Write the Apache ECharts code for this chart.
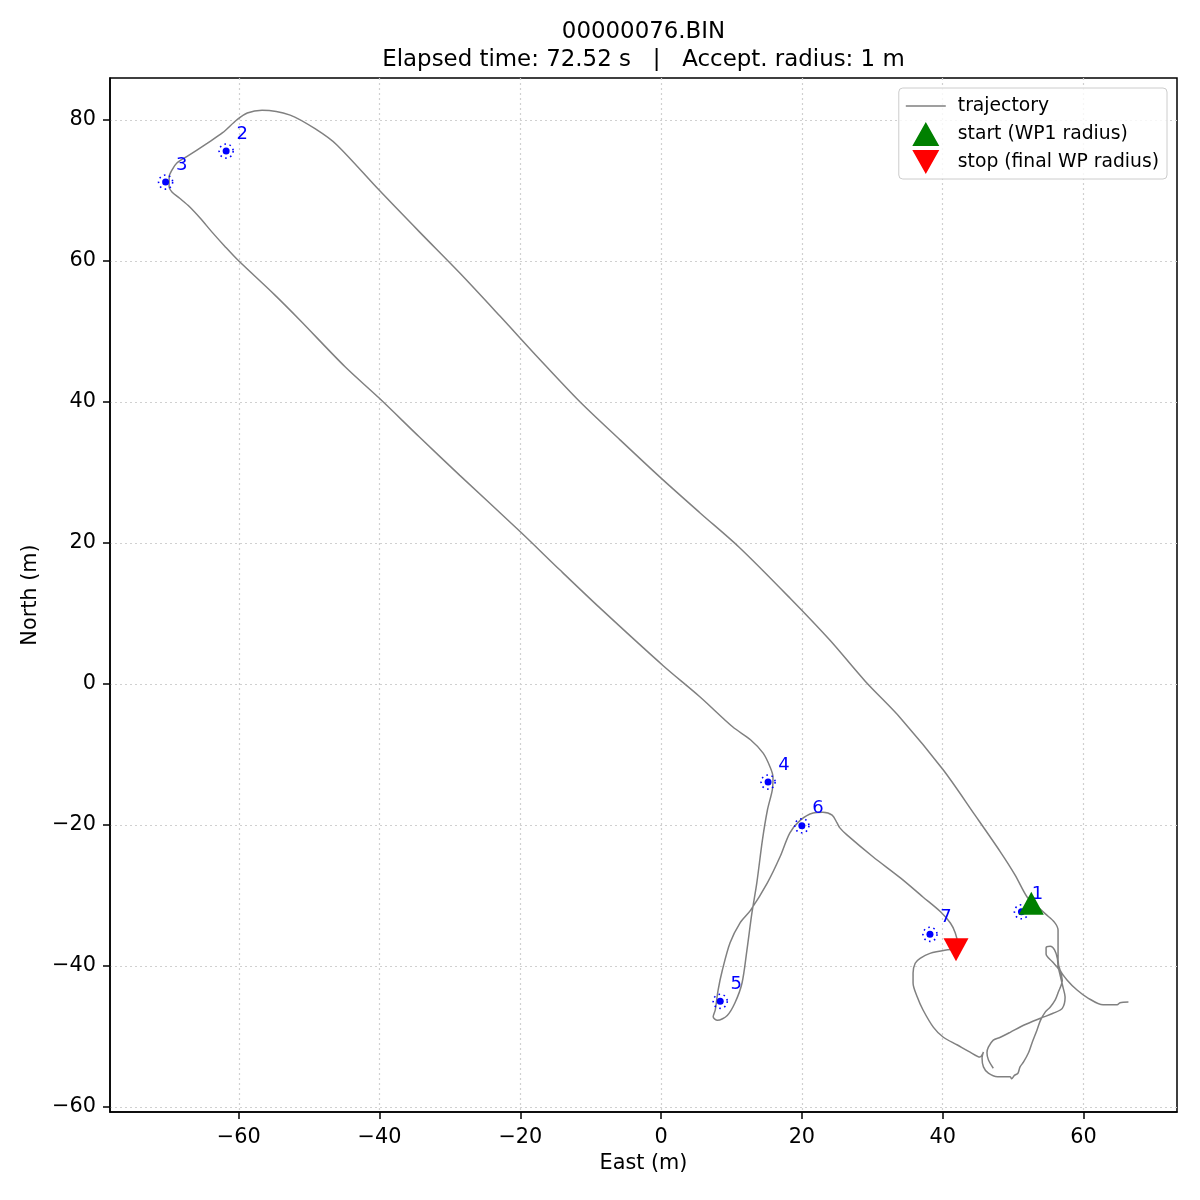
<!DOCTYPE html>
<html>
<head>
<meta charset="utf-8">
<script src="https://cdn.jsdelivr.net/npm/echarts@6/dist/echarts.min.js"></script>
<style>
  html, body { margin: 0; padding: 0; background: #fff; }
  #chart { width: 1200px; height: 1200px; }
</style>
</head>
<body>
<div id="chart"></div>
<script>
// trajectory (East / North, metres)
const trajEast = [66.4, 65.2, 64.8, 62.8, 60.6, 59.1, 57.7, 56.7, 56.4, 56.4, 56.4, 55.9, 54.6, 53.2, 52.0,
  50.3, 48.2, 44.6, 40.1, 34.0, 29.0, 24.0, 18.3, 11.2, 5.5, 0, -5.8, -11.5, -17.2, -22.9, -28.6, -34.3,
  -40.1, -46.1, -48.9, -52.7, -56.7, -58.8, -60.3, -62.3, -64.5, -67.4, -68.8, -69.5, -69.9, -69.9, -69.5,
  -68.4, -67.0, -65.5, -63.8, -62.0, -60.1, -54.9, -51.3, -44.9, -40.1, -34.3, -28.6, -20.0, -14.4, -8.7, 0.3,
  5.5, 10.2, 12.7, 14.5, 15.5, 15.9, 15.8, 15.1, 14.4, 13.6, 12.9, 12.2, 11.5, 10.5, 9.4, 8.0, 7.4, 7.7,
  8.1, 8.7, 9.8, 11.2, 12.7, 15.1, 16.9, 18.3, 19.8, 21.6, 23.0, 24.3, 25.0, 25.4, 26.4, 30.1, 34.0, 37.2,
  39.7, 41.1, 41.8, 42.1, 41.9, 40.7, 38.2, 36.8, 36.1, 35.8, 35.8, 36.4, 37.2, 38.7, 40.1, 42.1, 43.9,
  45.3, 45.8, 45.6, 45.8, 46.5, 47.8, 49.6, 49.8, 50.2, 50.7, 51.0, 51.5, 52.2, 52.7, 53.4, 53.9, 54.6,
  55.3, 56.0, 56.4, 57.0, 56.6, 55.6, 54.7, 54.7, 55.3, 55.9, 56.3, 56.4, 56.7, 57.1, 57.4, 57.0, 55.7,
  53.9, 51.5, 49.6, 48.2, 47.2, 46.5, 46.3, 46.5, 47.2];
const trajNorth = [-45.1, -45.2, -45.5, -45.5, -44.5, -43.4, -42.0, -40.6, -39.1, -37.0, -34.9, -33.8, -32.6, -31.3, -30.2,
  -27.1, -23.8, -18.6, -12.2, -4.8, 0.4, 6.2, 12.2, 19.3, 24.3, 29.2, 34.6, 40.0, 46.0, 52.2, 58.3, 64.1,
  70.1, 76.5, 78.6, 80.7, 81.4, 81.0, 80.0, 78.2, 76.7, 74.8, 73.9, 72.9, 71.9, 70.5, 69.8,
  68.9, 67.7, 66.1, 64.1, 62.1, 60.1, 55.2, 51.6, 45.0, 40.6, 35.0, 29.6, 21.6, 16.2, 10.8, 2.6,
  -1.8, -6.1, -7.9, -9.8, -11.8, -13.2, -15.0, -17.9, -22.1, -28.2, -32.5, -37.7, -42.4, -45.2, -47.0, -47.7, -47.2, -46.2,
  -43.4, -40.6, -36.7, -33.9, -32.1, -28.2, -24.5, -21.1, -19.3, -18.3, -18.2, -18.6, -19.7, -20.4, -21.4, -24.5, -27.5, -30.2,
  -32.3, -33.9, -35.3, -36.7, -37.6, -37.7, -38.2, -38.9, -39.6, -41.0, -42.4, -44.4, -46.2, -48.7, -50.1, -51.2, -52.2,
  -52.9, -52.2, -53.0, -54.3, -55.2, -55.7, -55.7, -56.0, -55.5, -55.2, -54.3, -53.6, -52.3, -50.9, -49.1, -47.7, -46.5,
  -45.8, -44.8, -43.8, -42.0, -40.6, -39.4, -38.3, -37.4, -37.2, -37.7, -38.9, -40.0, -41.3, -43.0, -44.4, -46.0, -46.7,
  -47.4, -48.4, -49.4, -50.1, -50.5, -51.5, -52.3, -53.3, -54.5];

// waypoints
const wpEast = [51.2, -61.8, -70.4, 15.2, 8.4, 20.0, 38.2];
const wpNorth = [-32.3, 75.6, 71.2, -13.9, -45.0, -20.1, -35.5];
const wpLabels = ['1', '2', '3', '4', '5', '6', '7'];
const acceptRadius = 1;

const startPoint = [52.6, -31.1];
const stopPoint = [41.9, -37.7];

const xTicks = [-60, -40, -20, 0, 20, 40, 60];
const yTicks = [-60, -40, -20, 0, 20, 40, 60, 80];

const FONT = '"DejaVu Sans", sans-serif';
const minus = (v) => (v < 0 ? '\u2212' + Math.abs(v) : String(v));

// legend icons drawn in a 40x24 box (corner stubs keep the box size)
const BOX = 'M0,0L0.01,0M40,24L39.99,24';
const lineIcon = 'path://' + BOX + 'M0,11.3L40,11.3L40,12.7L0,12.7Z';
const upIcon = 'path://' + BOX + 'M20,0L33.5,24L6.5,24Z';
const downIcon = 'path://' + BOX + 'M6.5,0L33.5,0L20,24Z';

const chart = echarts.init(document.getElementById('chart'), null, { renderer: 'canvas' });

const axisCommon = {
  type: 'value',
  nameLocation: 'middle',
  nameTextStyle: { fontSize: 20.8, color: '#000', fontFamily: FONT },
  axisLine: { show: true, onZero: false, lineStyle: { color: '#000', width: 1.5 } },
  axisTick: { show: true, inside: false, length: 7, lineStyle: { color: '#000', width: 1.5 } },
  axisLabel: { fontSize: 20.8, color: '#000', fontFamily: FONT, margin: 14, formatter: minus },
  splitLine: { show: true, lineStyle: { color: '#d0d0d0', width: 1.2, type: [2, 3] } },
};

chart.setOption({
  animation: false,
  backgroundColor: '#fff',
  textStyle: { fontFamily: FONT },
  title: {
    text: '00000076.BIN\nElapsed time: 72.52 s   |   Accept. radius: 1 m',
    left: 643.5,
    textAlign: 'center',
    top: 18,
    padding: 0,
    textStyle: { fontSize: 22.9, fontWeight: 'normal', color: '#000', lineHeight: 28, fontFamily: FONT },
  },
  grid: {
    left: 110, right: 23, top: 78, bottom: 88,
    show: true, borderColor: '#000', borderWidth: 1.5,
  },
  legend: {
    orient: 'vertical',
    right: 33,
    top: 88,
    padding: [6, 8, 5, 7],
    itemWidth: 40,
    itemHeight: 24,
    itemGap: 4,
    symbolRotate: 0,
    backgroundColor: 'rgba(255,255,255,0.8)',
    borderColor: '#cccccc',
    borderWidth: 1,
    borderRadius: 4,
    textStyle: { fontSize: 18.75, color: '#000', fontFamily: FONT, padding: [0, 0, 0, 7] },
    data: [
      { name: 'trajectory', icon: lineIcon },
      { name: 'start (WP1 radius)', icon: upIcon },
      { name: 'stop (final WP radius)', icon: downIcon, symbolRotate: 0 },
    ],
  },
  xAxis: Object.assign({}, axisCommon, {
    min: -78.3, max: 73.3,
    name: 'East (m)', nameGap: 41,
    axisTick: Object.assign({}, axisCommon.axisTick, { customValues: xTicks }),
    axisLabel: Object.assign({}, axisCommon.axisLabel, { customValues: xTicks, margin: 15 }),
  }),
  yAxis: Object.assign({}, axisCommon, {
    min: -60.7, max: 85.96,
    name: 'North (m)', nameGap: 66,
    axisTick: Object.assign({}, axisCommon.axisTick, { customValues: yTicks }),
    axisLabel: Object.assign({}, axisCommon.axisLabel, { customValues: yTicks }),
  }),
  series: [
    {
      name: 'trajectory',
      type: 'line',
      data: trajEast.map((e, i) => [e, trajNorth[i]]),
      showSymbol: false,
      symbol: 'none',
      smooth: 0.3,
      lineStyle: { color: '#808080', width: 1.5 },
      itemStyle: { color: '#808080' },
      emphasis: { disabled: true },
      z: 2,
    },
    {
      name: 'wp-radius',
      type: 'custom',
      data: wpEast.map((e, i) => [e, wpNorth[i]]),
      silent: true,
      z: 3,
      renderItem(params, api) {
        const c = api.coord([api.value(0), api.value(1)]);
        const r = api.size([acceptRadius, acceptRadius])[0];
        return {
          type: 'circle',
          shape: { cx: c[0], cy: c[1], r: r },
          style: { fill: 'none', stroke: '#0000ff', lineWidth: 1.6, lineDash: [1.6, 3.6] },
        };
      },
    },
    {
      name: 'waypoints',
      type: 'scatter',
      data: wpEast.map((e, i) => ({ name: wpLabels[i], value: [e, wpNorth[i]] })),
      symbol: 'circle',
      symbolSize: 7,
      itemStyle: { color: '#0000ff', opacity: 1 },
      label: {
        show: true, position: 'inside', offset: [16, -17], formatter: '{b}',
        color: '#0000ff', fontSize: 18, fontFamily: FONT,
      },
      emphasis: { disabled: true },
      z: 4,
    },
    {
      name: 'start (WP1 radius)',
      type: 'scatter',
      data: [startPoint],
      symbol: 'triangle',
      symbolSize: [25, 23],
      itemStyle: { color: '#008000', opacity: 1 },
      emphasis: { disabled: true },
      z: 5,
    },
    {
      name: 'stop (final WP radius)',
      type: 'scatter',
      data: [stopPoint],
      symbol: 'triangle',
      symbolRotate: 180,
      symbolSize: [25, 23],
      itemStyle: { color: '#ff0000', opacity: 1 },
      emphasis: { disabled: true },
      z: 5,
    },
  ],
});
</script>
</body>
</html>
